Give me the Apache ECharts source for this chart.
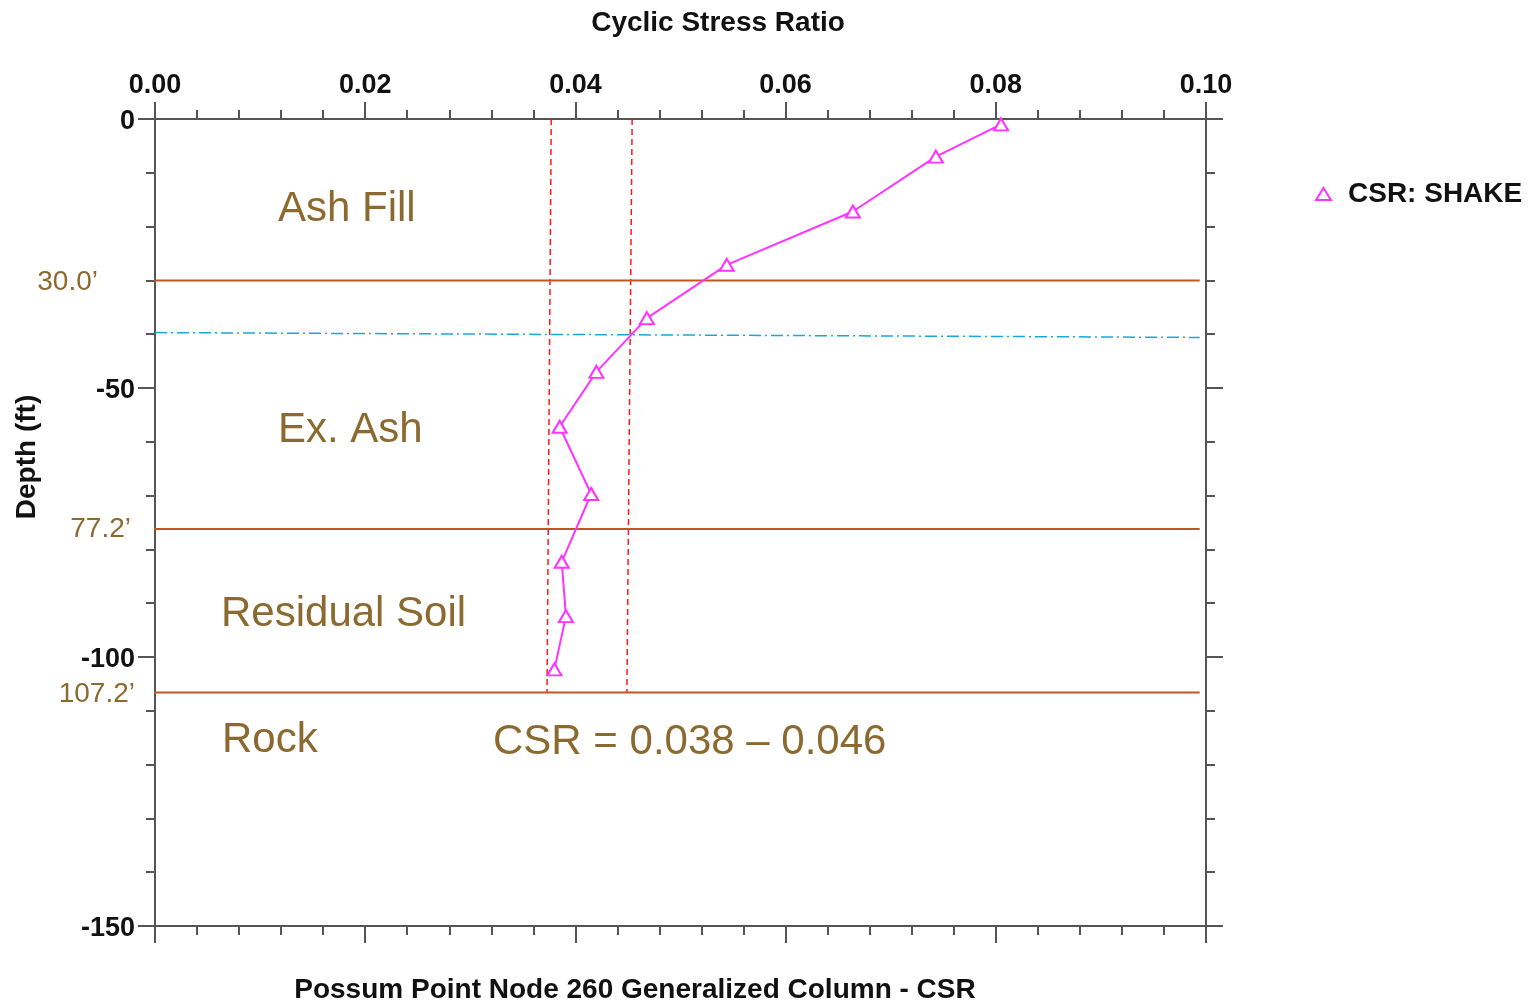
<!DOCTYPE html>
<html>
<head>
<meta charset="utf-8">
<script src="https://cdn.jsdelivr.net/npm/echarts@6/dist/echarts.min.js"></script>
<style>
html,body{margin:0;padding:0;background:#fff;}
#chart{width:1536px;height:1003px;}
</style>
</head>
<body>
<div id="chart"></div>
<script>
// ---- data ----
var csrShake = [0.0805, 0.0743, 0.0664, 0.0544, 0.0468, 0.0420, 0.0385, 0.0415, 0.0387, 0.0391, 0.0380];
var depthFt  = [-1, -7, -17.2, -27.1, -37, -47, -57.2, -69.7, -82.3, -92.4, -102.3];
var layerDepths = [-30.0, -76.2, -106.6];
var layerLabels = ['30.0\u2019', '77.2\u2019', '107.2\u2019'];
var layerNames = ['Ash Fill', 'Ex. Ash', 'Residual Soil', 'Rock'];
var waterTable = [-39.7, -40.6];          // depth at left / right end
var csrRangeTop = [0.0377, 0.0454];       // red dashed lines at top
var csrRangeBottom = [0.0373, 0.0449];    // red dashed lines at rock
var csrRangeText = 'CSR = 0.038 \u2013 0.046';
var xTicks = [0, 0.1, 0.02];
var yTicks = [-150, 0, 50];

var FONT = '"Liberation Sans", Arial, sans-serif';
var BROWN = '#8C6A2F';
var LAYER = '#C0581E';
var MAG = '#FF33FF';
var AX = '#555555';

var chart = echarts.init(document.getElementById('chart'));

var points = csrShake.map(function (v, i) { return [v, depthFt[i]]; });

function axisBase(extra) {
  var o = {
    axisLine: {show: true, onZero: false, lineStyle: {color: AX, width: 2}},
    axisTick: {show: true, inside: false, length: 17, lineStyle: {color: AX, width: 2}},
    minorTick: {show: true, splitNumber: 5, length: 9, lineStyle: {color: AX, width: 2}},
    splitLine: {show: false},
    minorSplitLine: {show: false}
  };
  for (var k in extra) o[k] = extra[k];
  return o;
}

var series = [];
series.push({
  name: 'CSR: SHAKE',
  type: 'line',
  data: points,
  symbol: 'triangle',
  symbolSize: [14, 12],
  showAllSymbol: true,
  lineStyle: {color: MAG, width: 2},
  itemStyle: {color: '#ffffff', borderColor: MAG, borderWidth: 2},
  z: 10,
  silent: true,
  animation: false
});
layerDepths.forEach(function (d, i) {
  series.push({
    name: 'layer' + i, type: 'line', clip: false, silent: true, animation: false,
    symbol: 'none', data: [[-0.0007, d], [0.0994, d]],
    lineStyle: {color: LAYER, width: 2}, z: 5
  });
});
series.push({
  name: 'water', type: 'line', clip: false, silent: true, animation: false, symbol: 'none',
  data: [[0, waterTable[0]], [0.0994, waterTable[1]]],
  lineStyle: {color: '#1AA7E0', width: 1.5, type: [12, 4, 2, 4]}, z: 4
});
csrRangeTop.forEach(function (v, i) {
  series.push({
    name: 'range' + i, type: 'line', clip: false, silent: true, animation: false, symbol: 'none',
    data: [[v, 0], [csrRangeBottom[i], layerDepths[2]]],
    lineStyle: {color: '#FF1A1A', width: 1.5, type: [6, 4]}, z: 4
  });
});

function txt(text, x, y, size, color, align, bold, rot) {
  return {
    type: 'text', x: x, y: y, rotation: rot || 0, silent: true, z: 100,
    style: {
      text: text, fill: color,
      font: (bold ? 'bold ' : '') + size + 'px ' + FONT,
      align: align || 'left', verticalAlign: 'middle',
      textAlign: align || 'left', textVerticalAlign: 'middle'
    }
  };
}

var graphics = [
  txt('Cyclic Stress Ratio', 718, 23, 28, '#111', 'center', true),
  txt('Possum Point Node 260 Generalized Column - CSR', 635, 990, 28, '#111', 'center', true),
  txt('Depth (ft)', 27, 457, 28, '#111', 'center', true, Math.PI / 2),
  txt(layerNames[0], 278, 209, 42, BROWN, 'left'),
  txt(layerNames[1], 278, 430, 42, BROWN, 'left'),
  txt(layerNames[2], 221, 614, 42, BROWN, 'left'),
  txt(layerNames[3], 222, 740, 42, BROWN, 'left'),
  txt(csrRangeText, 493, 742, 42, BROWN, 'left'),
  txt(layerLabels[0], 98, 282, 28, BROWN, 'right'),
  txt(layerLabels[1], 131, 529, 28, BROWN, 'right'),
  txt(layerLabels[2], 135, 694, 28, BROWN, 'right')
];

chart.setOption({
  animation: false,
  backgroundColor: '#ffffff',
  grid: {left: 155, right: 330, top: 119, bottom: 77, containLabel: false},
  legend: {
    data: ['CSR: SHAKE'],
    left: 1315, top: 180,
    padding: 0,
    icon: 'triangle',
    itemWidth: 15, itemHeight: 12,
    itemStyle: {color: '#ffffff', borderColor: MAG, borderWidth: 2},
    textStyle: {fontFamily: FONT, fontWeight: 'bold', fontSize: 28, color: '#111', padding: [0, 0, 0, 12]}
  },
  xAxis: [
    axisBase({
      type: 'value', position: 'top', min: xTicks[0], max: xTicks[1], interval: xTicks[2],
      axisLabel: {show: true, margin: 20, fontFamily: FONT, fontWeight: 'bold', fontSize: 27, color: '#111',
        formatter: function (v) { return v.toFixed(2); }}
    }),
    axisBase({
      type: 'value', position: 'bottom', min: xTicks[0], max: xTicks[1], interval: xTicks[2],
      axisLabel: {show: false}
    })
  ],
  yAxis: [
    axisBase({
      type: 'value', position: 'left', min: yTicks[0], max: yTicks[1], interval: yTicks[2],
      axisLabel: {show: true, margin: 20, color: '#111',
        formatter: function (v) { return '{v|' + v + '}'; },
        rich: {v: {fontFamily: FONT, fontWeight: 'bold', fontSize: 27, color: '#111', padding: [6, 0, 0, 0]}}}
    }),
    axisBase({
      type: 'value', position: 'right', min: yTicks[0], max: yTicks[1], interval: yTicks[2],
      axisLabel: {show: false}
    })
  ],
  series: series,
  graphic: graphics
});
</script>
</body>
</html>
